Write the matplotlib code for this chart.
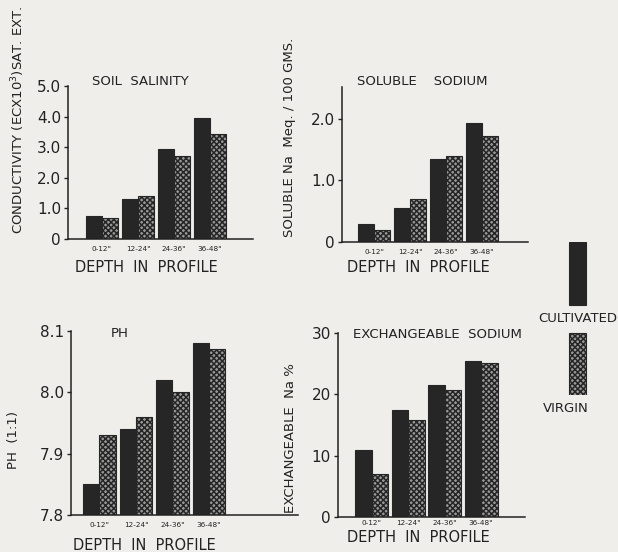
import matplotlib
matplotlib.use("Agg")
import matplotlib.pyplot as plt
import numpy as np

plt.rcParams['font.family'] = ['DejaVu Sans']
plt.rcParams['hatch.linewidth'] = 1.1

depths = ['0-12"', '12-24"', '24-36"', '36-48"']
series = ['CULTIVATED', 'VIRGIN']

salinity_cult = [0.75, 1.30, 2.95, 3.95]
salinity_virg = [0.68, 1.42, 2.70, 3.42]

sodium_cult = [0.30, 0.55, 1.35, 1.93]
sodium_virg = [0.20, 0.70, 1.40, 1.72]

ph_cult = [7.85, 7.94, 8.02, 8.08]
ph_virg = [7.93, 7.96, 8.00, 8.07]

exna_cult = [11.0, 17.5, 21.6, 25.4]
exna_virg = [7.0, 15.8, 20.7, 25.1]

W, H = 618, 552
BG = '#efeeeb'
DARK = '#262626'
VIRG_FACE = '#9a9a9a'
HATCH = 'xxxxxx'

fig = plt.figure(figsize=(W / 100, H / 100), dpi=100, facecolor=BG)


def px_axes(x0, y0, x1, y1):
    return fig.add_axes([x0 / W, (H - y1) / H, (x1 - x0) / W, (y1 - y0) / H])


def ftext(x, y, s, **kw):
    fig.text(x / W, (H - y) / H, s, **kw)


def panel(box, xlim, ylim, yticks, yticklabels, cult, virg, base=0.0, xpad=5):
    ax = px_axes(*box)
    ax.set_facecolor('none')
    x = np.arange(len(depths))
    bw = 0.45
    ax.bar(x - bw / 2, np.array(cult) - base, bw, bottom=base, color=DARK,
           edgecolor=DARK, linewidth=0.8)
    ax.bar(x + bw / 2, np.array(virg) - base, bw, bottom=base, color=VIRG_FACE,
           edgecolor=DARK, hatch=HATCH, linewidth=0.8)
    ax.set_xlim(*xlim)
    ax.set_ylim(*ylim)
    ax.set_yticks(yticks)
    ax.set_yticklabels(yticklabels, fontsize=11, color='#222')
    ax.set_xticks(x)
    ax.set_xticklabels(depths, fontsize=5.2, color='#222')
    ax.tick_params(axis='x', length=0, pad=xpad)
    ax.tick_params(axis='y', length=3, width=1, direction='out', pad=2, colors='#222')
    for s in ['top', 'right']:
        ax.spines[s].set_visible(False)
    for s in ['left', 'bottom']:
        ax.spines[s].set_linewidth(1.1)
        ax.spines[s].set_color('#222')
    return ax


# Top-left: soil salinity
panel((68, 86, 253, 239), (-0.94, 4.19), (0, 5.0), [0, 1, 2, 3, 4, 5],
      ['0', '1.0', '2.0', '3.0', '4.0', '5.0'], salinity_cult, salinity_virg)
ftext(140, 85, 'SOIL  SALINITY', fontsize=9.5, ha='center', va='baseline', color='#222')
ftext(146, 268, 'DEPTH  IN  PROFILE', fontsize=10.5, ha='center', va='center', color='#222')
ftext(18, 120, 'CONDUCTIVITY (ECX10$^3$)SAT. EXT.', fontsize=9.5, rotation=90,
      ha='center', va='center', color='#222')

# Top-right: soluble sodium
panel((342, 87, 528, 242), (-0.89, 4.28), (0, 2.52), [0, 1, 2],
      ['0', '1.0', '2.0'], sodium_cult, sodium_virg)
ftext(422, 85, 'SOLUBLE    SODIUM', fontsize=9.5, ha='center', va='baseline', color='#222')
ftext(418, 268, 'DEPTH  IN  PROFILE', fontsize=10.5, ha='center', va='center', color='#222')
ftext(289, 137, 'SOLUBLE Na  Meq. / 100 GMS.', fontsize=9.5, rotation=90,
      ha='center', va='center', color='#222')

# Bottom-left: pH
panel((71, 331, 298, 515), (-0.78, 5.44), (7.8, 8.1), [7.8, 7.9, 8.0, 8.1],
      ['7.8', '7.9', '8.0', '8.1'], ph_cult, ph_virg, base=7.8)
ftext(120, 337, 'PH', fontsize=9.5, ha='center', va='baseline', color='#222')
ftext(144, 545, 'DEPTH  IN  PROFILE', fontsize=10.5, ha='center', va='center', color='#222')
ftext(14, 440, 'PH  (1:1)', fontsize=9.5, rotation=90, ha='center', va='center', color='#222')

# Bottom-right: exchangeable sodium
panel((338, 333, 525, 517), (-0.92, 4.2), (0, 30), [0, 10, 20, 30],
      ['0', '10', '20', '30'], exna_cult, exna_virg, xpad=2)
ftext(437, 338, 'EXCHANGEABLE  SODIUM', fontsize=9.5, ha='center', va='baseline', color='#222')
ftext(418, 538, 'DEPTH  IN  PROFILE', fontsize=10.5, ha='center', va='center', color='#222')
ftext(290, 438, 'EXCHANGEABLE  Na %', fontsize=9.5, rotation=90, ha='center', va='center', color='#222')

# Legend
lax = px_axes(560, 242, 595, 395)
lax.set_facecolor('none')
lax.axis('off')
lax.set_xlim(-0.5, 0.5)
lax.set_ylim(0, 153)
lax.bar([0], [63], 0.5, bottom=90, color=DARK, edgecolor=DARK, linewidth=0.8)
lax.bar([0], [62], 0.5, bottom=0, color=VIRG_FACE, edgecolor=DARK, hatch=HATCH, linewidth=0.8)
ftext(578, 318, series[0], fontsize=9.5, ha='center', va='center', color='#222')
ftext(566, 408, series[1], fontsize=9.5, ha='center', va='center', color='#222')

fig.savefig('out.png', dpi=100, facecolor=BG)
